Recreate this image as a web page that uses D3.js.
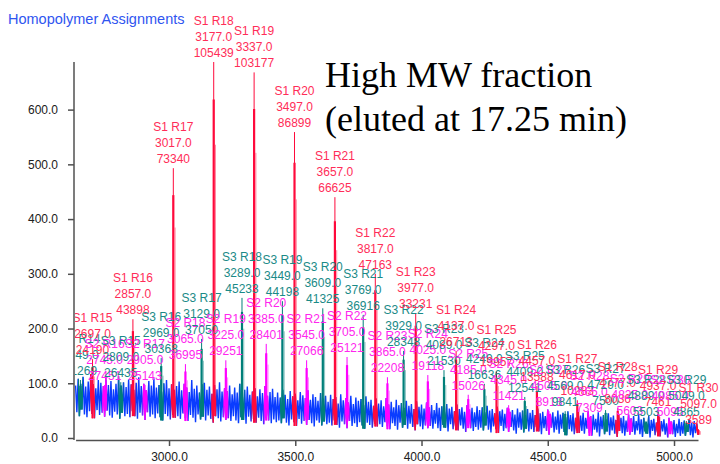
<!DOCTYPE html>
<html><head><meta charset="utf-8">
<script src="https://cdn.jsdelivr.net/npm/d3@7"></script>
<style>body{margin:0;background:#fff}svg{display:block}</style>
</head><body><svg id="c" width="720" height="464"></svg>
<script>
// ---- data ----
const xTicks = [3000, 3500, 4000, 4500, 5000];
const yTicks = [0, 100, 200, 300, 400, 500, 600];

const s1Rounds = [15,16,17,18,19,20,21,22,23,24,25,26,27,28,29,30];
const s1Masses = [2697,2857,3017,3177,3337,3497,3657,3817,3977,4137,4297,4457,4617,4777,4937,5097];
const s1Heights = [144,217,493,687,668,559,440,300,228,159,122,95,69,55,49,16];
const s1Counts = ["24190","43898","73340","105439","103177","86899","66625","47163","33231","26713","19957","13588","10283","8036","7461","3589"];

const s2Rounds = [16,17,18,19,20,21,22,23,24,25,26,27,28,29,30];
const s2Masses = [2745,2905,3065,3225,3385,3545,3705,3865,4025,4185,4345,4505,4665,4825,4985];
const s2Heights = [97,97,135,142,172,142,148,111,115,79,60,49,38,33,31];
const s2Counts = ["27451","25143","36995","29251","28401","27066","25121","22208","19118","15026","11421","8913","7309","5603","5095"];

const s3Rounds = [14,15,16,17,18,19,20,21,22,23,24,25,26,27,28,29];
const s3Masses = [2649,2809,2969,3129,3289,3449,3609,3769,3929,4089,4249,4409,4569,4729,4889,5049];
const s3Heights = [106,102,146,181,256,250,237,225,159,124,99,75,49,51,31,31];
const s3Counts = ["21269","26435","30368","37050","45233","44198","41325","36916","28348","21530","16636","12541","9841","7500","5503","4865"];

// baseline noise envelope, sampled every 10 Da from 2630 Da
const noiseStart = 2630, noiseStep = 10;
const noiseTop = [
 96,108,99,112,94,103,117,98,91,106,101,95,110,97,104,89,99,113,96,102,
 93,107,98,88,101,111,95,99,87,104,96,109,92,97,85,100,106,91,98,88,
 95,103,87,99,92,84,106,90,96,83,98,101,88,94,81,97,89,102,85,91,
 86,96,80,92,83,99,78,88,94,79,85,91,76,89,82,95,77,84,90,75,
 83,74,88,79,71,86,76,81,69,84,78,73,87,70,80,75,68,82,72,77,
 66,79,71,75,63,80,69,73,65,77,62,74,68,71,60,76,66,70,59,72,
 63,69,58,73,61,66,56,70,60,64,55,68,59,62,53,67,57,61,54,65,
 56,60,51,64,55,58,50,62,54,57,49,61,53,56,48,60,52,55,47,58,
 51,56,47,59,50,53,45,57,49,52,44,55,48,51,43,54,47,50,42,53,
 46,51,42,54,45,48,40,52,44,47,39,50,43,46,38,49,42,45,37,48,
 41,46,37,49,40,43,35,47,39,42,34,45,38,41,33,44,37,40,32,43,
 36,40,31,42,34,37,29,41,33,35,28,39,31,34,27,37,30,33,26,35,
 29,32,25,34,28,31,27];
const noiseBottom = [
 47,40,52,43,38,49,44,36,51,42,46,39,50,41,37,48,43,35,46,40,
 44,38,49,40,35,46,41,33,47,39,43,36,45,38,32,44,40,34,42,37,
 40,35,45,36,31,42,37,29,43,34,39,32,41,35,28,40,36,30,38,33,
 36,31,40,32,27,38,33,26,39,30,35,28,37,31,25,36,32,27,34,29,
 32,27,36,28,23,34,29,22,35,26,31,24,33,27,21,32,28,23,30,25,
 28,23,32,24,19,30,25,18,31,22,27,20,29,23,17,28,24,19,26,21,
 25,20,29,21,16,27,22,15,28,19,24,17,26,20,14,25,21,16,23,18,
 22,17,26,18,13,24,19,12,25,16,21,14,23,17,11,22,18,13,20,15,
 19,14,23,15,10,21,16,9,22,13,18,11,20,14,8,19,15,10,17,12,
 16,11,20,12,7,18,13,6,19,10,15,8,17,11,5,16,12,7,14,9,
 13,8,17,9,4,15,10,3,16,7,12,5,14,8,2,13,9,4,11,6,
 11,6,14,7,2,12,8,1,13,5,10,3,12,6,1,11,7,2,9,4,
 8,4,11,5,1,9,6];

const titleText = "Homopolymer Assignments";
const noteLines = ["High MW fraction", "(eluted at 17.25 min)"];

// ---- drawing ----
const colors = {
  S1: {line: "#ff0a3c", text: "#ff2d58"},
  S2: {line: "#ff00ff", text: "#ff26ee"},
  S3: {line: "#007f7a", text: "#1a8a87"}
};
const noiseColor = "#0a3cff";

const svg = d3.select("#c");
const x = d3.scaleLinear().domain([2630, 5095]).range([75.6, 698]);
const y = d3.scaleLinear().domain([0, 687]).range([438, 62]);

// trace: each sample gives a high point then a low point
const trace = [];
noiseTop.forEach((t, i) => {
  const m = noiseStart + i * noiseStep;
  trace.push({m: m, v: t});
  trace.push({m: m + noiseStep / 2, v: noiseBottom[i]});
});

const peaks = [];
function addSeries(name, rounds, masses, heights, counts) {
  rounds.forEach((r, i) => peaks.push({s: name, r: r, m: masses[i], h: heights[i], c: counts[i]}));
}
addSeries("S1", s1Rounds, s1Masses, s1Heights, s1Counts);
addSeries("S2", s2Rounds, s2Masses, s2Heights, s2Counts);
addSeries("S3", s3Rounds, s3Masses, s3Heights, s3Counts);
peaks.sort((a, b) => a.m - b.m);

const defs = svg.append("defs");
defs.append("clipPath").attr("id", "plotClip").append("rect")
  .attr("x", 75).attr("y", 0).attr("width", 645).attr("height", 464);

const line = d3.line().x(d => x(d.m)).y(d => y(d.v));
const tracePath = line(trace);

const plot = svg.append("g").attr("clip-path", "url(#plotClip)");
plot.append("path").attr("d", tracePath)
  .attr("fill", "none").attr("stroke", noiseColor).attr("stroke-width", 1.4);

// coloured part of the trace around each assigned peak
peaks.forEach((p, i) => {
  const id = "pk" + i;
  defs.append("clipPath").attr("id", id).append("rect")
    .attr("x", x(p.m) - 2.5).attr("y", 0).attr("width", 5).attr("height", 464);
  plot.append("path").attr("d", tracePath).attr("clip-path", `url(#${id})`)
    .attr("fill", "none").attr("stroke", colors[p.s].line).attr("stroke-width", 1.4);
});

// peak spikes
function bottomAt(m) {
  const k = Math.max(0, Math.min(noiseBottom.length - 1, Math.round((m - noiseStart) / noiseStep)));
  return noiseBottom[k];
}
peaks.forEach(p => {
  const cx = x(p.m), c = colors[p.s].line, b = y(bottomAt(p.m));
  const g = plot.append("g");
  g.append("line").attr("x1", cx + 1.8).attr("x2", cx + 1.8).attr("y1", b).attr("y2", y(p.h * 0.78))
    .attr("stroke", c).attr("stroke-width", 1).attr("opacity", 0.45);
  g.append("line").attr("x1", cx).attr("x2", cx).attr("y1", b).attr("y2", y(p.h * 0.9))
    .attr("stroke", c).attr("stroke-width", 2.2);
  g.append("line").attr("x1", cx).attr("x2", cx).attr("y1", b).attr("y2", y(p.h))
    .attr("stroke", c).attr("stroke-width", 1);
});

// labels
const labels = plot.append("g")
  .attr("font-family", "'Liberation Sans', Arial, sans-serif").attr("font-size", 12)
  .attr("text-anchor", "middle");
peaks.forEach(p => {
  const cx = x(p.m), top = y(p.h);
  const lines = [`${p.s} R${p.r}`, p.m.toFixed(1), p.c];
  const offs = [-37, -21, -5];
  lines.forEach((t, k) => {
    labels.append("text").attr("x", cx).attr("y", top + offs[k])
      .attr("fill", colors[p.s].text).text(t);
  });
});

// axes
const fmt = d3.format(".1f");
const yAxis = svg.append("g").attr("transform", "translate(74,0)")
  .call(d3.axisLeft(y).tickValues(yTicks).tickFormat(fmt).tickSize(6).tickSizeOuter(0).tickPadding(10));
const xAxis = svg.append("g").attr("transform", "translate(0,440)")
  .call(d3.axisBottom(x).tickValues(xTicks).tickFormat(fmt).tickSize(6).tickSizeOuter(0).tickPadding(6));
[yAxis, xAxis].forEach(a => {
  a.selectAll("path,line").attr("stroke", "#505050").attr("stroke-width", 1.5);
  a.selectAll("text").attr("font-family", "'Liberation Sans', Arial, sans-serif")
    .attr("font-size", 12).attr("fill", "#202020");
});
yAxis.select(".domain").attr("d", `M0,${y.range()[1]}V440`);

// title and note
svg.append("text").attr("x", 8).attr("y", 24)
  .attr("font-family", "'Liberation Sans', Arial, sans-serif").attr("font-size", 14.5)
  .attr("fill", "#2f55f0").text(titleText);
noteLines.forEach((t, k) => {
  svg.append("text").attr("x", 325).attr("y", 87 + k * 43.5)
    .attr("font-family", "'Liberation Serif', 'Times New Roman', serif").attr("font-size", 36)
    .attr("fill", "#000").text(t);
});
</script>
</body></html>
